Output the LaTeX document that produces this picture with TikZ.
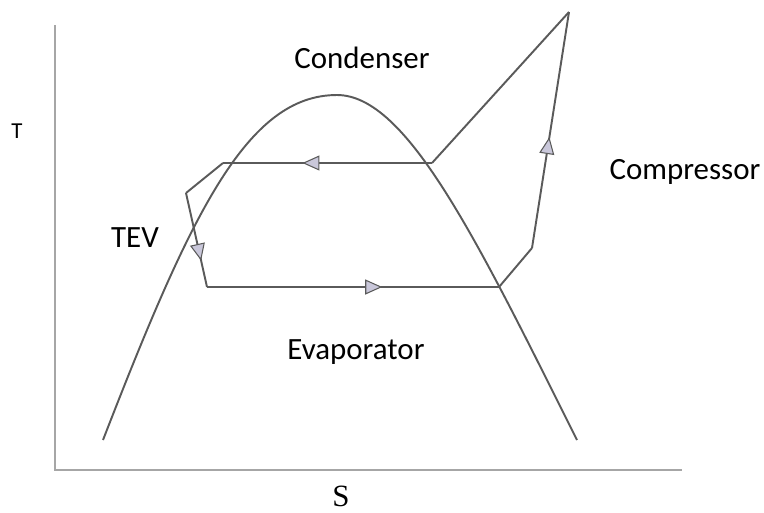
\documentclass[tikz,border=0pt]{standalone}
\usepackage{fontspec}
\setmainfont{Carlito}
\newfontfamily\seriffont{Liberation Serif}
\usepackage{xcolor}
\usetikzlibrary{arrows.meta,decorations.markings}
\definecolor{linegray}{HTML}{5A5A5A}
\definecolor{tipfill}{HTML}{C9C7DA}

\begin{document}
\begin{tikzpicture}[x=0.02cm,y=-0.02cm,
  every node/.style={font=\fontsize{17.6}{20}\selectfont},
  ln/.style={draw=linegray,line width=1.1pt},
  ax/.style={draw=gray!70,line width=1pt},
  flow/.style={postaction={decorate},decoration={markings,
    mark=at position #1 with {\arrow{Triangle[length=3.4mm,width=3mm,fill=tipfill,line width=0.6pt]}}}}]
 \useasboundingbox (0,0) rectangle (764,512);
 % axes
 \draw[ax] (55,25) -- (55,470) -- (682,470);
 \node[font=\fontsize{13}{15}\selectfont] (t) at (17,131) {T};
 \node (s) at (341,496) {\seriffont S};
 % saturation dome
 \coordinate (dl) at (103,440);
 \coordinate (top) at (337,95);
 \coordinate (dr) at (577,440);
 \draw[ln] (dl) .. controls (191,213) and (247,95) .. (top)
   .. controls (407,95) and (477,240) .. (dr);
 % cycle points
 \coordinate (p1) at (207,287);
 \coordinate (p2) at (499,287);
 \coordinate (p3) at (532,248);
 \coordinate (p4) at (569,12);
 \coordinate (p5) at (432,163);
 \coordinate (p6) at (223,163);
 \coordinate (p7) at (186,193);
 \draw[ln,flow=0.6] (p1) -- (p2);
 \draw[ln] (p2) -- (p3);
 \draw[ln,flow=0.47] (p3) -- (p4);
 \draw[ln] (p4) -- (p5);
 \draw[ln,flow=0.62] (p5) -- (p6);
 \draw[ln] (p6) -- (p7);
 \draw[ln,flow=0.72] (p7) -- (p1);
 % labels
 \node (cond) at (362,58) {Condenser};
 \node (comp) at (685,172) {Compressor};
 \node (tev) at (135,238) {TEV};
 \node (evap) at (356,352) {Evaporator};
\end{tikzpicture}
\end{document}
